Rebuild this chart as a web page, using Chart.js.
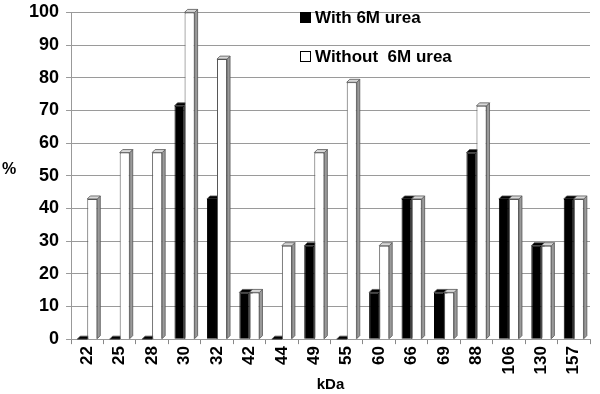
<!DOCTYPE html>
<html><head><meta charset="utf-8">
<script src="https://cdn.jsdelivr.net/npm/chart.js@4"></script>
<style>html,body{margin:0;padding:0;background:#fff}#wrap{width:600px;height:394px}</style>
</head><body><div id="wrap"><canvas id="c" width="600" height="394"></canvas></div>
<script>
const categories = ['22','25','28','30','32','42','44','49','55','60','66','69','88','106','130','157'];
const withUrea    = [0, 0, 0, 71.4, 42.9, 14.3, 0, 28.6, 0, 14.3, 42.9, 14.3, 57.1, 42.9, 28.6, 42.9];
const withoutUrea = [42.9, 57.1, 57.1, 100, 85.7, 14.3, 28.6, 57.1, 78.6, 28.6, 42.9, 14.3, 71.4, 42.9, 28.6, 42.9];
const yTicks = [0,10,20,30,40,50,60,70,80,90,100];
const seriesNames = ['With 6M urea', 'Without  6M urea'];

const FONT = "'Liberation Sans', Arial, sans-serif";
const D = 3;

const bar3d = {
  id: 'bar3d',
  beforeDatasetsDraw(chart) {
    const ctx = chart.ctx;
    ctx.save();
    chart.data.datasets.forEach((ds, di) => {
      const meta = chart.getDatasetMeta(di);
      meta.data.forEach(el => {
        const w = el.width, l = el.x - w/2, r = el.x + w/2, top = el.y, base = el.base;
        ctx.beginPath();
        ctx.moveTo(r, top); ctx.lineTo(r + D, top - D); ctx.lineTo(r + D, base - D); ctx.lineTo(r, base); ctx.closePath();
        ctx.fillStyle = di === 0 ? '#111' : '#9a9a9a';
        ctx.fill();
        ctx.strokeStyle = '#555'; ctx.lineWidth = 0.8; ctx.stroke();
        ctx.beginPath();
        ctx.moveTo(l, top); ctx.lineTo(l + D, top - D); ctx.lineTo(r + D, top - D); ctx.lineTo(r, top); ctx.closePath();
        ctx.fillStyle = di === 0 ? '#000' : '#d8d8d8';
        ctx.fill();
        ctx.stroke();
      });
    });
    ctx.restore();
  },
  afterDraw(chart) {
    const ctx = chart.ctx;
    ctx.save();
    ctx.fillStyle = '#000';
    ctx.font = "bold 16px " + FONT;
    ctx.textBaseline = 'middle';
    ctx.textAlign = 'left';
    ctx.fillText('%', 2, 170);
    const items = [{y: 18, fill: '#000'}, {y: 57, fill: '#fff'}];
    ctx.font = "bold 17px " + FONT;
    items.forEach((it, i) => {
      ctx.fillStyle = it.fill;
      ctx.fillRect(300.5, it.y - 5.5, 10, 10);
      ctx.strokeStyle = '#000'; ctx.lineWidth = 1;
      ctx.strokeRect(300.5, it.y - 5.5, 10, 10);
      ctx.fillStyle = '#000';
      ctx.fillText(seriesNames[i], 315, it.y);
    });
    ctx.restore();
  }
};

new Chart(document.getElementById('c'), {
  type: 'bar',
  data: {
    labels: categories,
    datasets: [
      { label: seriesNames[0], data: withUrea, backgroundColor: '#000', borderColor: '#000', borderWidth: 1 },
      { label: seriesNames[1], data: withoutUrea, backgroundColor: '#fff', borderColor: '#555', borderWidth: 1 }
    ]
  },
  options: {
    responsive: false,
    animation: false,
    devicePixelRatio: 1,
    layout: { padding: { left: 22, right: 10, top: 2, bottom: 0 } },
    datasets: { bar: { categoryPercentage: 0.62, barPercentage: 1.0 } },
    plugins: { legend: { display: false }, tooltip: { enabled: false } },
    scales: {
      x: {
        offset: true,
        grid: { display: true, drawOnChartArea: false, offset: true, color: '#888', tickLength: 5 },
        border: { color: '#999' },
        ticks: { color: '#000', font: { family: FONT, size: 17, weight: 'bold', lineHeight: 1.1 }, minRotation: 90, maxRotation: 90, padding: 2 },
        title: { display: true, text: 'kDa', color: '#000', font: { family: FONT, size: 15, weight: 'bold', lineHeight: 1.1 }, padding: { top: 0, bottom: 1 } }
      },
      y: {
        min: 0, max: 100,
        afterBuildTicks(scale) { scale.ticks = yTicks.map(v => ({ value: v })); },
        grid: { color: '#9a9a9a', tickLength: 5 },
        border: { color: '#999' },
        ticks: { color: '#000', font: { family: FONT, size: 18, weight: 'bold', lineHeight: 0.6 }, padding: 7 }
      }
    }
  },
  plugins: [bar3d]
});
</script></body></html>
